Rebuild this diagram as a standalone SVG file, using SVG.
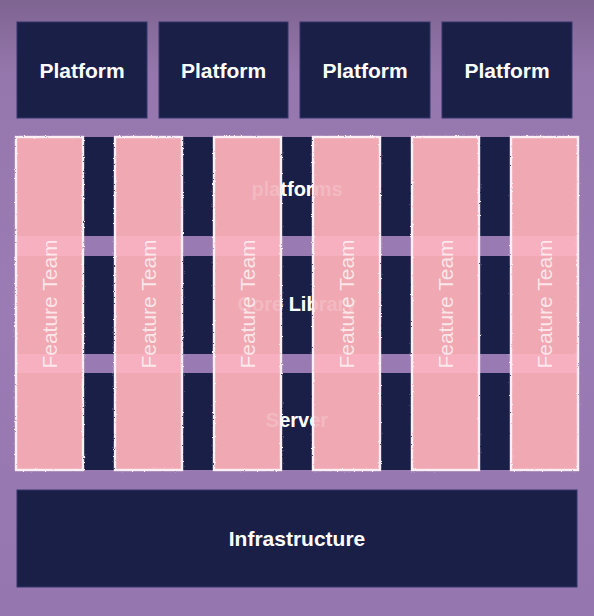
<svg xmlns="http://www.w3.org/2000/svg" width="594" height="616" viewBox="0 0 594 616">
  <defs>
    <linearGradient id="bg" x1="0" y1="0" x2="0" y2="1">
      <stop offset="0" stop-color="#7e6491"/>
      <stop offset="0.12" stop-color="#9677ad"/>
      <stop offset="0.5" stop-color="#9a7bb3"/>
      <stop offset="1" stop-color="#9676ae"/>
    </linearGradient>
    <filter id="rough" x="-5%" y="-5%" width="110%" height="110%">
      <feTurbulence type="fractalNoise" baseFrequency="0.9" numOctaves="2" seed="3" result="n"/>
      <feDisplacementMap in="SourceGraphic" in2="n" scale="2.2" xChannelSelector="R" yChannelSelector="G"/>
    </filter>
    <style>
      .dark { fill: #1a1f47; }
      .box { fill: #1a1f47; stroke: #33376a; stroke-width: 1; }
      .lbl { font-family: "Liberation Sans", Arial, sans-serif; font-weight: bold; font-size: 21px; fill: #ffffff; text-anchor: middle; }
      .band { font-family: "Liberation Sans", Arial, sans-serif; font-weight: bold; font-size: 20px; fill: #ffffff; text-anchor: middle; }
      .faint { fill-opacity: 0.2; }
      .col { fill: #f0a9b3; }
      .colb { fill: none; stroke: #fbeef4; stroke-width: 2.4; filter: url(#rough); }
      .stripe { fill: #f6b0c0; }
      .ft { font-family: "Liberation Sans", Arial, sans-serif; font-size: 21px; fill: #ffffff; fill-opacity: 0.72; text-anchor: middle; }
    </style>
  </defs>

  <rect x="0" y="0" width="594" height="616" fill="url(#bg)"/>

  <g id="platform-1"><rect class="box" x="17" y="22" width="130" height="96"/><text class="lbl" x="82" y="78">Platform</text></g>
  <g id="platform-2"><rect class="box" x="159" y="22" width="129" height="96"/><text class="lbl" x="223.5" y="78">Platform</text></g>
  <g id="platform-3"><rect class="box" x="300" y="22" width="130" height="96"/><text class="lbl" x="365" y="78">Platform</text></g>
  <g id="platform-4"><rect class="box" x="442" y="22" width="130" height="96"/><text class="lbl" x="507" y="78">Platform</text></g>

  <g id="infrastructure"><rect class="box" x="17" y="490" width="560" height="97"/><text class="lbl" x="297" y="546">Infrastructure</text></g>

  <g id="band-platforms"><rect class="dark" x="17" y="137" width="560" height="99"/><text class="band" x="297" y="196">platforms</text></g>
  <g id="band-core-library"><rect class="dark" x="17" y="256" width="560" height="98"/><text class="band" x="297" y="311">Core Library</text></g>
  <g id="band-server"><rect class="dark" x="17" y="373" width="560" height="97"/><text class="band" x="297" y="427">Server</text></g>

  <g id="feature-team-1">
    <rect class="col" x="16" y="137" width="67" height="333"/>
    <rect class="stripe" x="17" y="236" width="65" height="20"/><rect class="stripe" x="17" y="354" width="65" height="19"/>
    <rect class="colb" x="16" y="137" width="67" height="333"/>
  </g>
  <g id="feature-team-2">
    <rect class="col" x="115" y="137" width="67" height="333"/>
    <rect class="stripe" x="116" y="236" width="65" height="20"/><rect class="stripe" x="116" y="354" width="65" height="19"/>
    <rect class="colb" x="115" y="137" width="67" height="333"/>
  </g>
  <g id="feature-team-3">
    <rect class="col" x="214" y="137" width="67" height="333"/>
    <rect class="stripe" x="215" y="236" width="65" height="20"/><rect class="stripe" x="215" y="354" width="65" height="19"/>
    <rect class="colb" x="214" y="137" width="67" height="333"/>
  </g>
  <g id="feature-team-4">
    <rect class="col" x="313" y="137" width="67" height="333"/>
    <rect class="stripe" x="314" y="236" width="65" height="20"/><rect class="stripe" x="314" y="354" width="65" height="19"/>
    <rect class="colb" x="313" y="137" width="67" height="333"/>
  </g>
  <g id="feature-team-5">
    <rect class="col" x="412" y="137" width="67" height="333"/>
    <rect class="stripe" x="413" y="236" width="65" height="20"/><rect class="stripe" x="413" y="354" width="65" height="19"/>
    <rect class="colb" x="412" y="137" width="67" height="333"/>
  </g>
  <g id="feature-team-6">
    <rect class="col" x="511" y="137" width="67" height="333"/>
    <rect class="stripe" x="512" y="236" width="65" height="20"/><rect class="stripe" x="512" y="354" width="65" height="19"/>
    <rect class="colb" x="511" y="137" width="67" height="333"/>
  </g>

  <g id="band-labels-through">
    <text class="band faint" x="297" y="196">platforms</text>
    <text class="band faint" x="297" y="311">Core Library</text>
    <text class="band faint" x="297" y="427">Server</text>
  </g>

  <g id="feature-team-labels">
    <text class="ft" transform="translate(57 304) rotate(-90)">Feature Team</text>
    <text class="ft" transform="translate(156 304) rotate(-90)">Feature Team</text>
    <text class="ft" transform="translate(255 304) rotate(-90)">Feature Team</text>
    <text class="ft" transform="translate(354 304) rotate(-90)">Feature Team</text>
    <text class="ft" transform="translate(453 304) rotate(-90)">Feature Team</text>
    <text class="ft" transform="translate(552 304) rotate(-90)">Feature Team</text>
  </g>

  <g id="connectors"/>
</svg>
